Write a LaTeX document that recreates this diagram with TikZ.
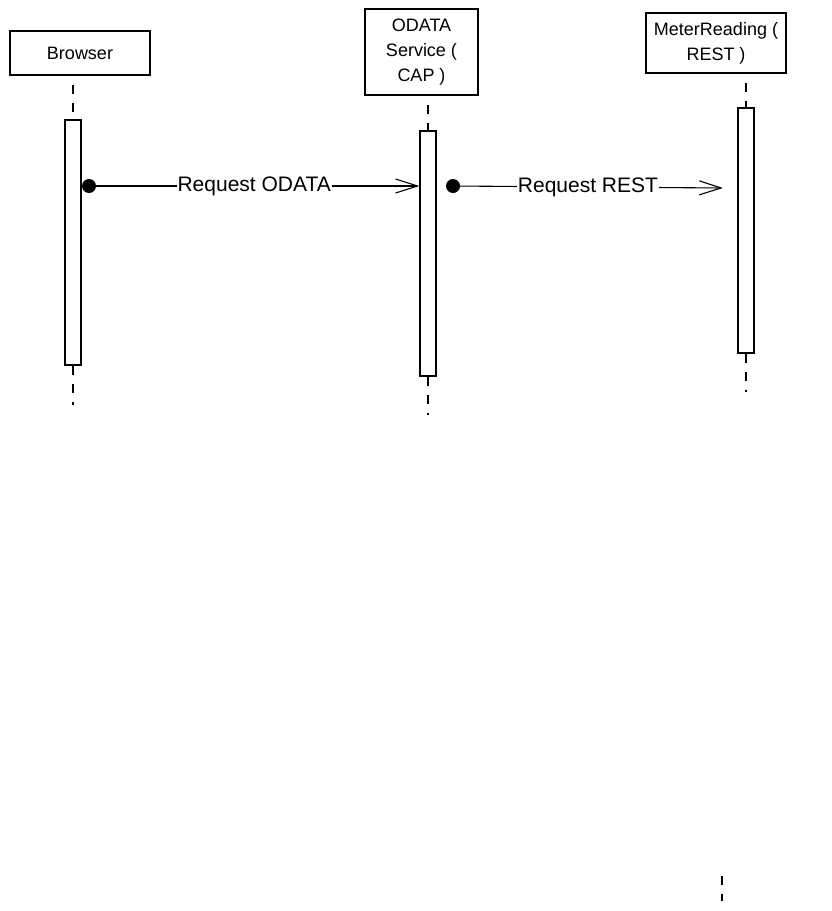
\documentclass[tikz,border=0pt]{standalone}
\usepackage{fontspec}
\setmainfont{Liberation Sans}
\usepackage{tikz}
\usetikzlibrary{arrows.meta}

\tikzset{
  actor/.style={draw, line width=1.3pt, fill=white, align=center, inner sep=2pt, font=\fontsize{18}{25}\selectfont},
  bar/.style={draw, line width=1.2pt, fill=white, minimum width=16pt, inner sep=0pt},
  life/.style={line width=1.2pt, dash pattern=on 9pt off 9pt},
  msg/.style={line width=1.1pt, -{Straight Barb[length=22pt,width=14pt,line width=1.1pt]}},
  lbl/.style={fill=white, inner sep=1pt, font=\fontsize{21}{24}\selectfont}
}

\begin{document}
\begin{tikzpicture}[x=1pt,y=-1pt]

\useasboundingbox[fill=white] (0,0) rectangle (831,911);

% actors
\node [actor, minimum width=140pt, minimum height=44pt] (browser) at (80,53) {Browser};
\node [actor, minimum width=113pt, minimum height=86pt] (odata) at (421.5,52) {ODATA\\Service (\\CAP )};
\node [actor, minimum width=140pt, minimum height=60pt] (meter) at (716,43) {MeterReading (\\REST )};

% activation bars
\node [bar, minimum height=245pt] (bbar) at (73,242.5) {};
\node [bar, minimum height=245pt] (obar) at (428,253.5) {};
\node [bar, minimum height=245pt] (mbar) at (746,230.5) {};

% lifeline ends
\coordinate (bend) at (73,405);
\coordinate (oend) at (428,415);
\coordinate (mend) at (746,392);
\coordinate (stray) at (722,876);
\coordinate (strayend) at (722,901);

\draw [life, dash phase=9pt] (bbar.north |- browser.south) -- (bbar.north);
\draw [life, dash phase=9pt] (obar.north |- odata.south) -- (obar.north);
\draw [life, dash phase=9pt] (mbar.north |- meter.south) -- (mbar.north);
\draw [life] (bbar.south) -- (bend);
\draw [life] (obar.south) -- (oend);
\draw [life] (mbar.south) -- (mend);
\draw [life] (stray) -- (strayend);

% messages
\coordinate (m1) at (89,186);
\coordinate (m2) at (453,186);
\coordinate (m2end) at (723,188);

\fill (m1) circle (7pt);
\fill (m2) circle (7pt);

\draw [msg] (m1) -- (obar.west |- m1) node [lbl, midway] (odatamsg) {Request ODATA};
\draw [msg] (m2) -- (m2end) node [lbl, midway] (restmsg) {Request REST};

\end{tikzpicture}
\end{document}
